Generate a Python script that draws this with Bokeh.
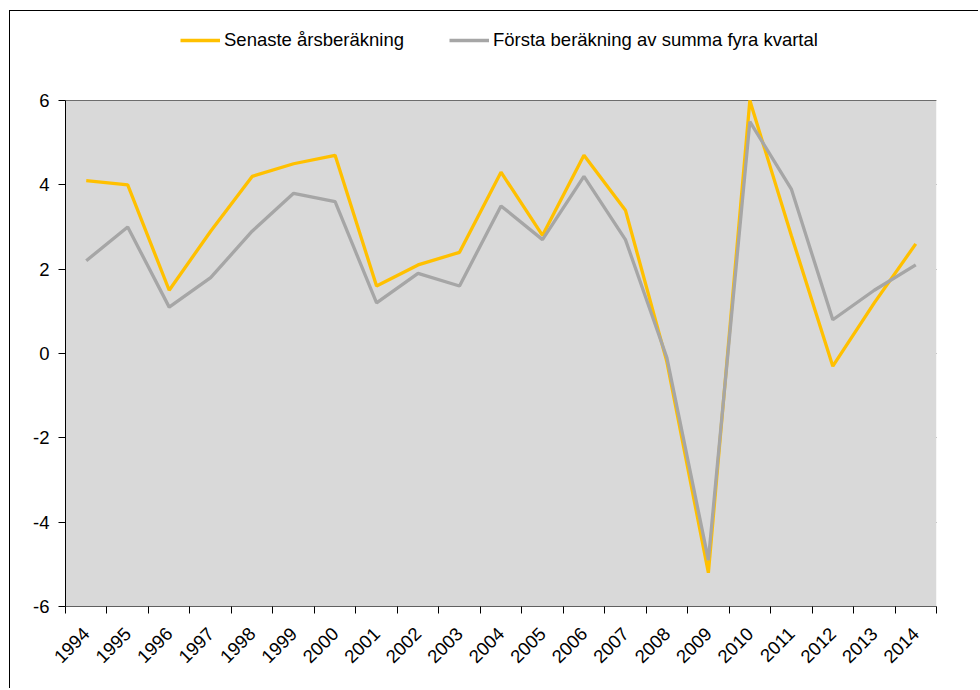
import math
from bokeh.plotting import figure
from bokeh.models import (FixedTicker, Range1d, Legend, LegendItem, ColumnDataSource,
                          BoxAnnotation)
from bokeh.embed import file_html
from bokeh.resources import INLINE

years = [1994, 1995, 1996, 1997, 1998, 1999, 2000, 2001, 2002, 2003, 2004,
         2005, 2006, 2007, 2008, 2009, 2010, 2011, 2012, 2013, 2014]
senaste = [4.1, 4.0, 1.5, 2.9, 4.2, 4.5, 4.7, 1.6, 2.1, 2.4, 4.3,
           2.8, 4.7, 3.4, -0.2, -5.2, 6.0, 2.8, -0.3, 1.2, 2.6]
forsta = [2.2, 3.0, 1.1, 1.8, 2.9, 3.8, 3.6, 1.2, 1.9, 1.6, 3.5,
          2.7, 4.2, 2.7, -0.1, -4.9, 5.5, 3.9, 0.8, 1.5, 2.1]
y_ticks = [-6, -4, -2, 0, 2, 4, 6]
y_tick_labels = ["-6", "-4", "-2", "0", "2", "4", "6"]
series_names = ["Senaste årsberäkning", "Första beräkning av summa fyra kvartal"]

FONT = "Liberation Sans"

# layout (pixels)
W, H = 969, 678
B_LEFT, B_RIGHT, B_BOTTOM = 55, 43, 83
PLOT_H = 506          # height of the grey plot area
TOP_SPACE = 89        # legend area above the grey plot area

y_min, y_max = y_ticks[0], y_ticks[-1]
px_per_unit = PLOT_H / (y_max - y_min)
y_top = y_max + TOP_SPACE / px_per_unit

# category positions (centre of each year slot)
xpos = [i + 0.5 for i in range(len(years))]
src = ColumnDataSource(dict(x=xpos, senaste=senaste, forsta=forsta))

p = figure(width=W, height=H, output_backend="svg", toolbar_location=None,
           x_range=Range1d(0, len(years)), y_range=Range1d(y_min, y_top),
           min_border_left=B_LEFT, min_border_right=B_RIGHT, min_border_top=0,
           min_border_bottom=B_BOTTOM)
p.styles = {"border-top": "1px solid black", "border-left": "1px solid black",
            "margin-top": "10px", "margin-left": "9px"}

p.background_fill_color = "white"
p.border_fill_color = "white"
p.outline_line_color = None

# grey plot area
p.add_layout(BoxAnnotation(left=0, right=len(years), bottom=y_min, top=y_max,
                           fill_color="#d9d9d9", fill_alpha=1, line_color=None,
                           level="underlay"))

# lines
r1 = p.line("x", "senaste", source=src, line_color="#ffc000", line_width=3.3)
r2 = p.line("x", "forsta", source=src, line_color="#a6a6a6", line_width=3.3)

# x axis
xa = p.xaxis[0]
xa.ticker = FixedTicker(ticks=xpos, minor_ticks=list(range(len(years) + 1)))
xa.major_label_overrides = {x: str(y) for x, y in zip(xpos, years)}
xa.major_label_orientation = math.pi / 4
xa.major_tick_out = 0
xa.major_tick_in = 0
xa.minor_tick_out = 7
xa.minor_tick_in = 0
xa.minor_tick_line_color = "black"
xa.axis_line_color = "#606060"
xa.major_label_text_font = FONT
xa.major_label_text_font_size = "18.5px"
xa.major_label_text_color = "black"
xa.major_label_standoff = 17

# y axis (line limited to the grey plot area)
ya = p.yaxis[0]
ya.ticker = FixedTicker(ticks=y_ticks)
ya.bounds = (y_min, y_max)
ya.major_label_overrides = {v: s for v, s in zip(y_ticks, y_tick_labels)}
ya.major_tick_out = 7
ya.major_tick_in = 0
ya.major_tick_line_color = "black"
ya.axis_line_color = "black"
ya.minor_tick_line_color = None
ya.major_label_text_font = FONT
ya.major_label_text_font_size = "18.5px"
ya.major_label_text_color = "black"
ya.major_label_standoff = 9

p.xgrid.grid_line_color = None
p.ygrid.grid_line_color = "black"
p.ygrid.grid_line_width = 1
p.ygrid.ticker = FixedTicker(ticks=y_ticks)

legend = Legend(items=[LegendItem(label=series_names[0], renderers=[r1]),
                       LegendItem(label=series_names[1], renderers=[r2])],
                orientation="horizontal", location=(115, PLOT_H + 49))
legend.label_text_font = FONT
legend.label_text_font_size = "18.5px"
legend.label_text_color = "black"
legend.glyph_width = 40
legend.glyph_height = 20
legend.label_standoff = 4
legend.spacing = 45
legend.padding = 0
legend.margin = 0
legend.border_line_color = None
legend.background_fill_alpha = 0
p.add_layout(legend, "center")

open("out.html", "w").write(file_html(p, INLINE))
